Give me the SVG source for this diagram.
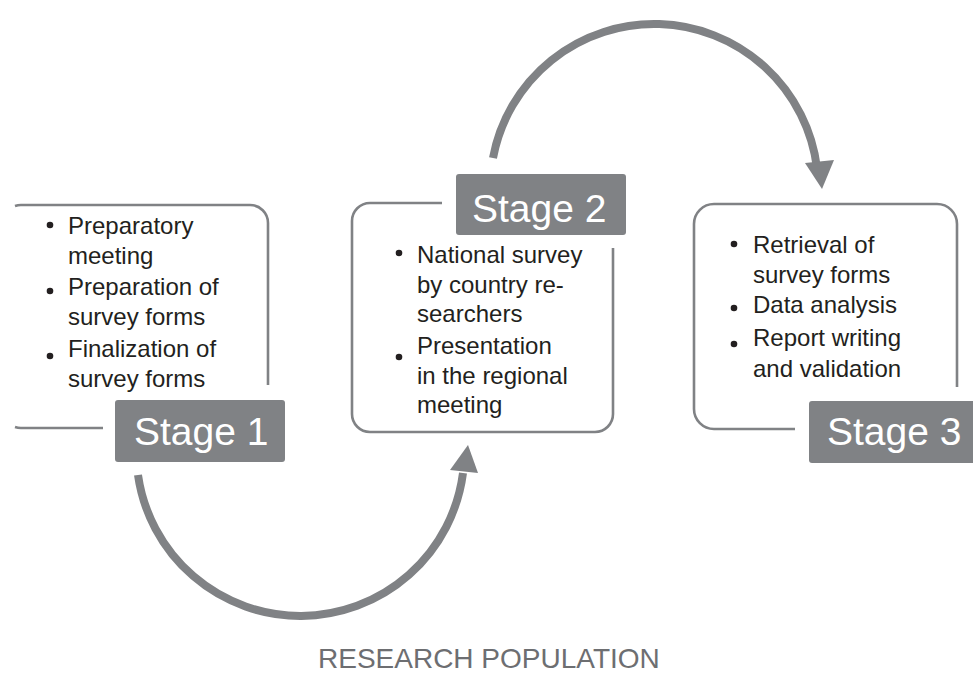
<svg xmlns="http://www.w3.org/2000/svg" width="973" height="692" viewBox="0 0 973 692">
<style>
.box{fill:none;stroke:#808285;stroke-width:2.6;stroke-linecap:butt}
.lbl{fill:#808285}
.lt{font-family:"Liberation Sans",Arial,sans-serif;font-size:39px;fill:#ffffff}
.bt{font-family:"Liberation Sans",Arial,sans-serif;font-size:24px;fill:#231f20}
.dot{fill:#231f20}
.arc{fill:none;stroke:#808285;stroke-width:8}
.head{fill:#808285}
.cap{font-family:"Liberation Sans",Arial,sans-serif;font-size:28px;fill:#6d6e71}
</style>
<rect width="973" height="692" fill="#ffffff"/>
<g id="stage1">
<path class="box" d="M103 428 L21 428 A18 18 0 0 1 15 427 M15 206 A18 18 0 0 1 21 205 L250 205 A18 18 0 0 1 268 223 L268 385"/>
<rect class="lbl" x="115" y="400" width="170" height="62" rx="3"/>
<text class="lt" x="134" y="445">Stage 1</text>
<circle class="dot" cx="50" cy="225" r="3.3"/>
<circle class="dot" cx="50" cy="291" r="3.3"/>
<circle class="dot" cx="50" cy="356" r="3.3"/>
<text class="bt" x="68" y="234">Preparatory</text>
<text class="bt" x="68" y="264">meeting</text>
<text class="bt" x="68" y="295">Preparation of</text>
<text class="bt" x="68" y="325">survey forms</text>
<text class="bt" x="68" y="357">Finalization of</text>
<text class="bt" x="68" y="387">survey forms</text>
</g>
<g id="stage2">
<path class="box" d="M442 203 L370 203 A18 18 0 0 0 352 221 L352 414 A18 18 0 0 0 370 432 L595 432 A18 18 0 0 0 613 414 L613 248"/>
<rect class="lbl" x="456" y="174" width="170" height="61" rx="3"/>
<text class="lt" x="472" y="222">Stage 2</text>
<circle class="dot" cx="399" cy="253" r="3.3"/>
<circle class="dot" cx="399" cy="357" r="3.3"/>
<text class="bt" x="417" y="263">National survey</text>
<text class="bt" x="417" y="293">by country re-</text>
<text class="bt" x="417" y="322">searchers</text>
<text class="bt" x="417" y="354">Presentation</text>
<text class="bt" x="417" y="384">in the regional</text>
<text class="bt" x="417" y="413">meeting</text>
</g>
<g id="stage3">
<path class="box" d="M795 429 L714 429 A20 20 0 0 1 694 409 L694 224 A20 20 0 0 1 714 204 L937 204 A20 20 0 0 1 957 224 L957 387"/>
<rect class="lbl" x="809" y="401" width="166" height="62" rx="3"/>
<text class="lt" x="827" y="445">Stage 3</text>
<circle class="dot" cx="734" cy="244" r="3.3"/>
<circle class="dot" cx="734" cy="308" r="3.3"/>
<circle class="dot" cx="734" cy="344" r="3.3"/>
<text class="bt" x="753" y="253">Retrieval of</text>
<text class="bt" x="753" y="283">survey forms</text>
<text class="bt" x="753" y="313">Data analysis</text>
<text class="bt" x="753" y="346">Report writing</text>
<text class="bt" x="753" y="377">and validation</text>
</g>
<g id="connectors">
<path class="arc" d="M493 158 A164 164 0 0 1 817 168"/>
<polygon class="head" points="805,163 834,160 822,189"/>
<path class="arc" d="M138 475 A164 164 0 0 0 463 473"/>
<polygon class="head" points="450,470 478,473 468,445"/>
</g>
<text id="population" class="cap" x="318" y="668">RESEARCH POPULATION</text>
</svg>
